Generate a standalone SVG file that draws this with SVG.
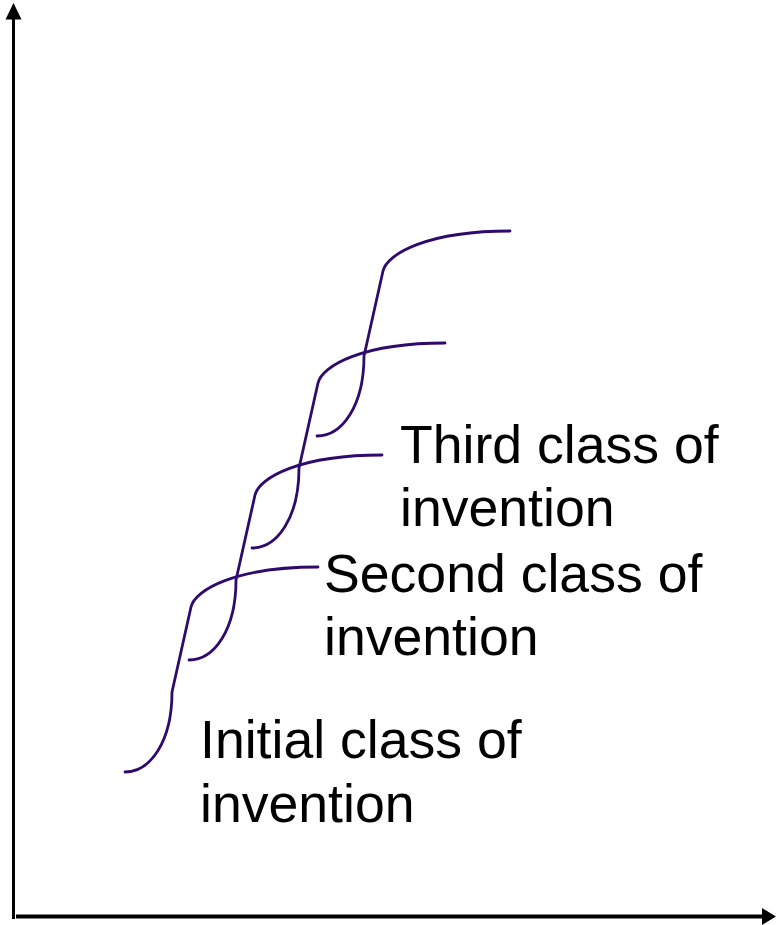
<svg xmlns="http://www.w3.org/2000/svg" width="776" height="925" viewBox="0 0 776 925">
<style>
.curve{fill:none;stroke:#2d0a6c;stroke-width:2.8;stroke-linecap:round;stroke-linejoin:round}
.axis{stroke:#000;stroke-width:3}
.lbl{font-family:"Liberation Sans",Arial,sans-serif;font-size:53.6px;fill:#000}
</style>
<rect width="776" height="925" fill="#fff"/>
<g id="axes">
<line class="axis" x1="13.5" y1="919" x2="13.5" y2="16"/>
<polygon points="13.5,3 5.5,19.5 21.5,19.5" fill="#000"/>
<line class="axis" x1="16" y1="916.5" x2="764" y2="916.5" style="stroke-width:4"/>
<polygon points="776,916.5 762,908 762,925" fill="#000"/>
</g>
<g id="connectors">
<path id="curve1" class="curve" d="M125 772 C150 772 172 742 172 692 L191 607 C195 590 235 567 318 567"/>
<path id="curve2" class="curve" d="M189 660 C214 660 236 630 236 580 L255 495 C259 478 299 455 382 455"/>
<path id="curve3" class="curve" d="M252 548 C277 548 299 518 299 468 L318 383 C322 366 362 343 445 343"/>
<path id="curve4" class="curve" d="M317 436 C342 436 364 406 364 356 L383 271 C387 254 427 231 510 231"/>
</g>
<g id="label-initial">
<text class="lbl" x="200" y="758">Initial class of</text>
<text class="lbl" x="200" y="822">invention</text>
</g>
<g id="label-second">
<text class="lbl" x="324" y="592">Second class of</text>
<text class="lbl" x="324" y="655">invention</text>
</g>
<g id="label-third">
<text class="lbl" x="400" y="463">Third class of</text>
<text class="lbl" x="400" y="526">invention</text>
</g>
</svg>
